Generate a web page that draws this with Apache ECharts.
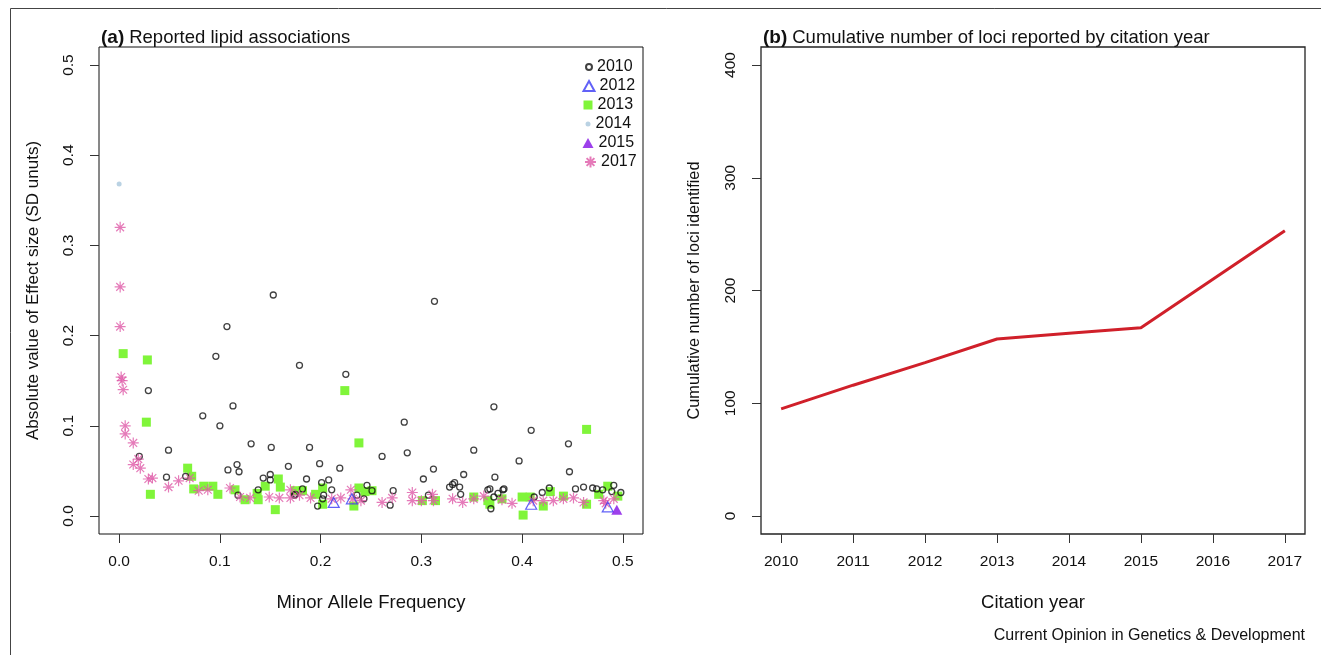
<!DOCTYPE html>
<html>
<head>
<meta charset="utf-8">
<script src="https://cdn.jsdelivr.net/npm/echarts@6/dist/echarts.min.js"></script>
<style>html,body{margin:0;padding:0;background:#fff}#c{width:1321px;height:655px}</style>
</head>
<body>
<div id="c"></div>
<script>
// ---------- Panel (a) data: [minor allele frequency, |effect size|] ----------
var pts2010 = [[0.153,0.245],[0.313,0.238],[0.107,0.21],[0.096,0.177],[0.179,0.167],[0.225,0.157],[0.113,0.122],[0.083,0.111],[0.029,0.139],[0.1,0.1],[0.372,0.121],[0.283,0.104],[0.409,0.095],[0.446,0.08],[0.131,0.08],[0.151,0.076],[0.049,0.073],[0.189,0.076],[0.352,0.073],[0.261,0.066],[0.286,0.07],[0.02,0.066],[0.117,0.057],[0.108,0.051],[0.119,0.049],[0.168,0.055],[0.047,0.043],[0.066,0.044],[0.199,0.058],[0.219,0.053],[0.312,0.052],[0.342,0.046],[0.397,0.061],[0.373,0.043],[0.447,0.049],[0.143,0.042],[0.15,0.046],[0.15,0.04],[0.138,0.029],[0.118,0.023],[0.175,0.024],[0.186,0.041],[0.302,0.041],[0.201,0.037],[0.208,0.04],[0.328,0.032],[0.331,0.035],[0.333,0.037],[0.338,0.032],[0.182,0.03],[0.211,0.029],[0.246,0.034],[0.251,0.028],[0.272,0.028],[0.203,0.023],[0.202,0.019],[0.197,0.011],[0.236,0.023],[0.243,0.019],[0.269,0.012],[0.174,0.023],[0.307,0.023],[0.339,0.024],[0.366,0.029],[0.368,0.03],[0.372,0.021],[0.376,0.025],[0.381,0.029],[0.382,0.03],[0.369,0.008],[0.427,0.031],[0.42,0.026],[0.453,0.03],[0.461,0.032],[0.47,0.031],[0.474,0.03],[0.48,0.029],[0.489,0.027],[0.491,0.034],[0.498,0.026],[0.412,0.021]];
var pts2012 = [[0.213,0.015],[0.231,0.019],[0.409,0.013],[0.485,0.01]];
var pts2013 = [[0.004,0.18],[0.028,0.173],[0.027,0.104],[0.031,0.024],[0.068,0.053],[0.072,0.044],[0.074,0.03],[0.084,0.033],[0.093,0.033],[0.098,0.024],[0.115,0.029],[0.125,0.018],[0.138,0.018],[0.137,0.025],[0.145,0.033],[0.158,0.041],[0.16,0.032],[0.155,0.007],[0.175,0.028],[0.182,0.028],[0.195,0.024],[0.202,0.031],[0.202,0.013],[0.224,0.139],[0.238,0.081],[0.233,0.011],[0.238,0.031],[0.244,0.027],[0.251,0.028],[0.301,0.017],[0.314,0.017],[0.352,0.021],[0.366,0.017],[0.368,0.013],[0.38,0.019],[0.4,0.021],[0.408,0.021],[0.401,0.001],[0.421,0.011],[0.428,0.027],[0.441,0.022],[0.464,0.096],[0.464,0.013],[0.485,0.033],[0.476,0.024],[0.495,0.022]];
var pts2014 = [[0.0,0.368]];
var pts2015 = [[0.494,0.007]];
var pts2017 = [[0.001,0.32],[0.001,0.254],[0.001,0.21],[0.002,0.154],[0.003,0.15],[0.004,0.14],[0.006,0.1],[0.006,0.091],[0.014,0.081],[0.019,0.063],[0.014,0.057],[0.021,0.053],[0.029,0.041],[0.033,0.042],[0.049,0.032],[0.059,0.039],[0.07,0.042],[0.079,0.028],[0.088,0.029],[0.11,0.031],[0.12,0.021],[0.13,0.02],[0.149,0.021],[0.159,0.02],[0.17,0.02],[0.17,0.029],[0.179,0.023],[0.19,0.02],[0.211,0.019],[0.22,0.02],[0.23,0.029],[0.232,0.019],[0.24,0.017],[0.261,0.015],[0.271,0.02],[0.291,0.026],[0.291,0.017],[0.3,0.017],[0.311,0.024],[0.312,0.017],[0.331,0.019],[0.341,0.015],[0.352,0.019],[0.362,0.022],[0.38,0.018],[0.39,0.014],[0.411,0.017],[0.421,0.017],[0.431,0.017],[0.441,0.019],[0.451,0.02],[0.461,0.015],[0.481,0.017],[0.491,0.019],[0.483,0.014]];

var mafTicks = [0, 0.1, 0.2, 0.3, 0.4, 0.5];
var effTicks = [0, 0.1, 0.2, 0.3, 0.4, 0.5];

// ---------- Panel (b) data ----------
var citationYears = [2010, 2011, 2012, 2013, 2014, 2015, 2016, 2017];
var cumulativeLoci = [95, 116, 136, 157, 162, 167, 210, 253];
var lociTicks = [0, 100, 200, 300, 400];

var FONT = "'Liberation Sans', Arial, Helvetica, sans-serif";
var ASTER = 'path://M0,-10L0,10M-10,0L10,0M-7.07,-7.07L7.07,7.07M-7.07,7.07L7.07,-7.07';

var chart = echarts.init(document.getElementById('c'), null, {renderer: 'canvas'});

function baseAxis(extra) {
  var a = {
    type: 'value',
    axisLine: {show: false, onZero: false},
    splitLine: {show: false},
    nameTextStyle: {color: '#111', fontSize: 18.5, fontFamily: FONT},
    nameLocation: 'middle'
  };
  for (var k in extra) a[k] = extra[k];
  return a;
}
function tick(vals) {
  return {show: true, inside: false, length: 9, customValues: vals, lineStyle: {color: '#333', width: 1}};
}

var legendDefs = [
  {name: '2010', w: 6, h: 6},
  {name: '2012', w: 11, h: 10},
  {name: '2013', w: 9, h: 9},
  {name: '2014', w: 5, h: 5},
  {name: '2015', w: 11, h: 10},
  {name: '2017', w: 11, h: 11}
];
var legends = legendDefs.map(function (d, i) {
  return {
    data: [d.name],
    left: 588 - d.w / 2,
    top: 67 + i * 19 - 9,
    itemWidth: d.w,
    itemHeight: d.h,
    itemGap: 0,
    padding: 0,
    selectedMode: false,
    textStyle: {color: '#111', fontSize: 16, fontFamily: FONT, lineHeight: 18}
  };
});

var titleRich = {
  b: {fontWeight: 'bold', fontSize: 19, fontFamily: FONT, color: '#111'},
  n: {fontWeight: 'normal', fontSize: 18.5, fontFamily: FONT, color: '#111'}
};

var option = {
  backgroundColor: '#fff',
  animation: false,
  title: [
    {left: 96, top: 23, text: '{b|(a)} {n|Reported lipid associations}', textStyle: {rich: titleRich}},
    {left: 758, top: 23, text: '{b|(b)} {n|Cumulative number of loci reported by citation year}', textStyle: {rich: titleRich}}
  ],
  legend: legends,
  grid: [
    {left: 99, top: 47, width: 544, height: 487, show: true, borderColor: '#111', borderWidth: 1, backgroundColor: 'transparent'},
    {left: 761, top: 47, width: 544, height: 487, show: true, borderColor: '#222', borderWidth: 1.3, backgroundColor: 'transparent'}
  ],
  xAxis: [
    baseAxis({
      gridIndex: 0, min: -0.02, max: 0.52,
      name: 'Minor Allele Frequency', nameGap: 59,
      axisTick: tick(mafTicks),
      axisLabel: {color: '#111', fontSize: 15.5, fontFamily: FONT, margin: 20, customValues: mafTicks,
        formatter: function (v) { return v.toFixed(1); }}
    }),
    baseAxis({
      gridIndex: 1, min: 2009.72, max: 2017.28,
      name: 'Citation year', nameGap: 59,
      axisTick: tick(citationYears),
      axisLabel: {color: '#111', fontSize: 15.5, fontFamily: FONT, margin: 20, customValues: citationYears,
        formatter: function (v) { return String(Math.round(v)); }}
    })
  ],
  yAxis: [
    baseAxis({
      gridIndex: 0, min: -0.02, max: 0.52,
      name: 'Absolute value of Effect size (SD unuts)', nameGap: 57,
      nameTextStyle: {color: '#111', fontSize: 17, fontFamily: FONT},
      axisTick: tick(effTicks),
      axisLabel: {color: '#111', fontSize: 15.5, fontFamily: FONT, margin: 22, rotate: 90, customValues: effTicks,
        formatter: function (v) { return v.toFixed(1); }}
    }),
    baseAxis({
      gridIndex: 1, min: -16, max: 416,
      name: 'Cumulative number of loci identified', nameGap: 58,
      nameTextStyle: {color: '#111', fontSize: 16.3, fontFamily: FONT},
      axisTick: tick(lociTicks),
      axisLabel: {color: '#111', fontSize: 15.5, fontFamily: FONT, margin: 22, rotate: 90, customValues: lociTicks,
        formatter: function (v) { return String(v); }}
    })
  ],
  series: [
    {name: '2013', type: 'scatter', xAxisIndex: 0, yAxisIndex: 0, data: pts2013,
      symbol: 'rect', symbolSize: 9, itemStyle: {color: '#80f53a', opacity: 1}},
    {name: '2010', type: 'scatter', xAxisIndex: 0, yAxisIndex: 0, data: pts2010,
      symbol: 'circle', symbolSize: 6, itemStyle: {color: 'rgba(255,255,255,0)', borderColor: '#111', borderWidth: 1.3}},
    {name: '2017', type: 'scatter', xAxisIndex: 0, yAxisIndex: 0, data: pts2017,
      symbol: ASTER, symbolSize: 11, itemStyle: {color: 'none', borderColor: '#df5aa8', borderWidth: 1.2}},
    {name: '2012', type: 'scatter', xAxisIndex: 0, yAxisIndex: 0, data: pts2012,
      symbol: 'triangle', symbolSize: [11, 10], itemStyle: {color: 'rgba(255,255,255,0)', borderColor: '#3a3af5', borderWidth: 1.2}},
    {name: '2014', type: 'scatter', xAxisIndex: 0, yAxisIndex: 0, data: pts2014,
      symbol: 'circle', symbolSize: 5, itemStyle: {color: '#a9c7dc'}},
    {name: '2015', type: 'scatter', xAxisIndex: 0, yAxisIndex: 0, data: pts2015,
      symbol: 'triangle', symbolSize: [11, 10], itemStyle: {color: '#8410e6'}},
    {name: 'loci', type: 'line', xAxisIndex: 1, yAxisIndex: 1,
      data: citationYears.map(function (y, i) { return [y, cumulativeLoci[i]]; }),
      showSymbol: false, symbol: 'none', lineStyle: {color: '#d0202a', width: 3}}
  ],
  graphic: [
    {type: 'rect', shape: {x: 10.5, y: 8.5, width: 1330, height: 700}, style: {fill: 'none', stroke: '#444', lineWidth: 1}, silent: true},
    {type: 'text', right: 16, top: 628, style: {text: 'Current Opinion in Genetics & Development', fontSize: 16, fontFamily: FONT, fill: '#111'}}
  ]
};
chart.setOption(option);
</script>
</body>
</html>
